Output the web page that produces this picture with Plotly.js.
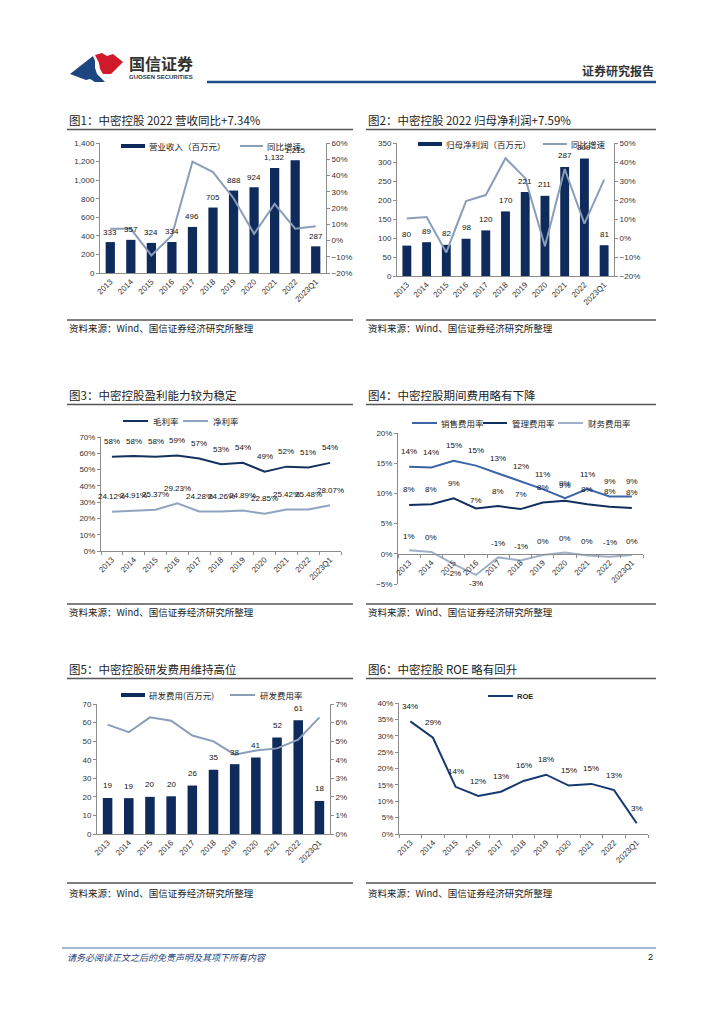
<!DOCTYPE html>
<html>
<head>
<meta charset="utf-8">
<script src="https://cdn.plot.ly/plotly-3.0.1.min.js"></script>
<style>
html,body{margin:0;padding:0;background:#fff;}
#chart{width:724px;height:1024px;}
</style>
</head>
<body>
<div id="chart"></div>
<script>
// ---------- data ----------
const categories = ['2013','2014','2015','2016','2017','2018','2019','2020','2021','2022','2023Q1'];

const revenue = [333,357,324,334,496,705,888,924,1132,1215,287];
const revenueLabels = ['333','357','324','334','496','705','888','924','1,132','1,215','287'];
const revenueYoY = [7.2,7.2,-9.2,3.1,48.5,42.1,26.0,4.1,22.5,7.3,8.8];

const netProfit = [80,89,82,98,120,170,221,211,287,309,81];
const netProfitYoY = [10.2,11.0,-7.6,19.4,22.6,42.0,31.5,-4.3,36.3,7.6,30.7];

const grossMargin = [57.9,58.3,57.8,58.7,56.8,53.3,54.2,48.7,51.8,51.3,54.1];
const grossLabels = ['58%','58%','58%','59%','57%','53%','54%','49%','52%','51%','54%'];
const netMargin = [24.12,24.91,25.37,29.23,24.28,24.26,24.89,22.85,25.42,25.48,28.07];
const netLabels = ['24.12%','24.91%','25.37%','29.23%','24.28%','24.26%','24.89%','22.85%','25.42%','25.48%','28.07%'];

const salesRate = [14.4,14.3,15.4,14.6,13.3,12.0,10.7,9.2,10.7,9.5,9.5];
const salesLabels = ['14%','14%','15%','15%','13%','12%','11%','9%','11%','9%','9%'];
const adminRate = [8.1,8.2,9.2,7.5,7.9,7.4,8.5,8.8,8.2,7.8,7.6];
const adminLabels = ['8%','8%','9%','7%','8%','7%','8%','9%','8%','8%','8%'];
const financeRate = [0.6,0.3,-1.7,-3.5,-0.6,-1.1,-0.2,0.2,-0.3,-0.5,-0.2];
const financeLabels = ['1%','0%','-2%','-3%','-1%','-1%','0%','0%','0%','-1%','0%'];

const rdExpense = [19.4,19.3,20.0,20.3,26.1,34.6,37.6,41.2,51.9,61.2,17.8];
const rdRate = [5.89,5.48,6.28,6.10,5.30,4.99,4.27,4.49,4.61,5.08,6.28];

const roe = [34.4,29.4,14.4,11.6,12.9,16.2,18.1,14.8,15.3,13.4,3.3];

// ---------- styling ----------
const W = 724, H = 1024;
const px = x => x / W;
const py = y => 1 - y / H;
const FONT = 'Liberation Sans, Noto Sans CJK SC, sans-serif';
const CJK = 'Noto Sans CJK SC, Liberation Sans, sans-serif';
const NAVY = '#0f2b5b';
const GREYBLUE = '#8a9db9';
const AXIS = '#8c8c8c';
const tickFont = {family: FONT, size: 8, color: '#333'};
const labelFont = {family: FONT, size: 8, color: '#111'};

function xAx(left, right, anchor, extra) {
  return Object.assign({
    type: 'category', domain: [px(left), px(right)], range: [-0.5, 10.5],
    anchor: anchor, showline: true, linecolor: AXIS, linewidth: 1,
    showgrid: false, zeroline: false, tickangle: -45, tickfont: tickFont,
    ticks: '', fixedrange: true
  }, extra || {});
}
function yAx(top, bottom, range, dtick, anchor, extra) {
  return Object.assign({
    domain: [py(bottom), py(top)], range: range, dtick: dtick, anchor: anchor,
    showline: true, linecolor: AXIS, linewidth: 1, ticks: 'outside', ticklen: 3,
    tickcolor: AXIS, showgrid: false, zeroline: false, tickfont: tickFont, fixedrange: true
  }, extra || {});
}

// ---------- traces ----------
const traces = [
  {type: 'bar', x: categories, y: revenue, xaxis: 'x', yaxis: 'y', width: 0.45,
   marker: {color: NAVY}, hoverinfo: 'skip'},
  {type: 'scatter', mode: 'lines', x: categories, y: revenueYoY, xaxis: 'x', yaxis: 'y2',
   line: {color: GREYBLUE, width: 2}, hoverinfo: 'skip'},

  {type: 'bar', x: categories, y: netProfit, xaxis: 'x2', yaxis: 'y3', width: 0.45,
   marker: {color: NAVY}, hoverinfo: 'skip'},
  {type: 'scatter', mode: 'lines', x: categories, y: netProfitYoY, xaxis: 'x2', yaxis: 'y4',
   line: {color: GREYBLUE, width: 2}, hoverinfo: 'skip'},

  {type: 'scatter', mode: 'lines', x: categories, y: grossMargin, xaxis: 'x3', yaxis: 'y5',
   line: {color: '#15315f', width: 2}, hoverinfo: 'skip'},
  {type: 'scatter', mode: 'lines', x: categories, y: netMargin, xaxis: 'x3', yaxis: 'y5',
   line: {color: '#8fa4c0', width: 2}, hoverinfo: 'skip'},

  {type: 'scatter', mode: 'lines', x: categories, y: salesRate, xaxis: 'x4', yaxis: 'y6',
   line: {color: '#3c64a8', width: 2}, hoverinfo: 'skip'},
  {type: 'scatter', mode: 'lines', x: categories, y: adminRate, xaxis: 'x4', yaxis: 'y6',
   line: {color: '#12305f', width: 2}, hoverinfo: 'skip'},
  {type: 'scatter', mode: 'lines', x: categories, y: financeRate, xaxis: 'x4', yaxis: 'y6',
   line: {color: '#9fb0c8', width: 2}, hoverinfo: 'skip'},

  {type: 'bar', x: categories, y: rdExpense, xaxis: 'x5', yaxis: 'y7', width: 0.45,
   marker: {color: NAVY}, hoverinfo: 'skip'},
  {type: 'scatter', mode: 'lines', x: categories, y: rdRate, xaxis: 'x5', yaxis: 'y8',
   line: {color: GREYBLUE, width: 2}, hoverinfo: 'skip'},

  {type: 'scatter', mode: 'lines', x: categories, y: roe, xaxis: 'x6', yaxis: 'y9',
   line: {color: '#163a70', width: 2}, hoverinfo: 'skip'}
];

// ---------- annotations ----------
const ann = [];
function labels(xref, yref, vals, texts, shiftFn) {
  vals.forEach((v, i) => {
    // category axes: use the category index so numeric-looking names are not read as numbers
    ann.push({xref: xref, yref: yref, x: i, y: v, text: texts[i],
      showarrow: false, yshift: shiftFn(v, i), font: labelFont});
  });
}
labels('x', 'y', revenue, revenueLabels, () => 10);
labels('x2', 'y3', netProfit, netProfit.map(String), () => 11);
labels('x3', 'y5', grossMargin, grossLabels, () => 15);
labels('x3', 'y5', netMargin, netLabels, () => 15);
labels('x4', 'y6', salesRate, salesLabels, () => 15);
labels('x4', 'y6', adminRate, adminLabels, (v, i) => (i === 3 ? 8 : 15));
labels('x4', 'y6', financeRate, financeLabels, v => (v < -1.5 ? -9 : 14));
labels('x5', 'y7', rdExpense, rdExpense.map(v => String(Math.round(v))), () => 12);
labels('x6', 'y9', roe, roe.map(v => Math.round(v) + '%'), () => 15);

function txt(x, y, text, size, opts) {
  ann.push(Object.assign({xref: 'paper', yref: 'paper', x: px(x), y: py(y), text: text,
    showarrow: false, xanchor: 'left', yanchor: 'middle',
    font: {family: CJK, size: size, color: '#222'}}, opts || {}));
}
// header
txt(127, 63, '国信证券', 16, {font: {family: CJK, size: 16, color: '#333', weight: 'bold'}});
txt(127, 77, 'GUOSEN SECURITIES', 6, {font: {family: FONT, size: 6, color: '#333', weight: 'bold'}});
txt(656, 70, '证券研究报告', 12, {xanchor: 'right', font: {family: CJK, size: 12, color: '#333', weight: 'bold'}});
// titles
txt(67, 120, '图1：中密控股 2022 营收同比+7.34%', 11.5);
txt(366, 120, '图2：中密控股 2022 归母净利润+7.59%', 11.5);
txt(67, 395, '图3：中密控股盈利能力较为稳定', 11.5);
txt(366, 395, '图4：中密控股期间费用略有下降', 11.5);
txt(67, 669, '图5：中密控股研发费用维持高位', 11.5);
txt(366, 669, '图6：中密控股 ROE 略有回升', 11.5);
// sources
const src = '资料来源：Wind、国信证券经济研究所整理';
[[67, 328], [366, 328], [67, 612], [366, 612], [67, 893], [366, 893]].forEach(p => txt(p[0], p[1], src, 9.5));
// legends text
const legFont = {family: CJK, size: 8.5, color: '#222'};
txt(147, 146, '营业收入（百万元）', 8.5, {font: legFont});
txt(265, 146, '同比增速', 8.5, {font: legFont});
txt(444, 144, '归母净利润（百万元）', 8.5, {font: legFont});
txt(569, 144, '同比增速', 8.5, {font: legFont});
txt(151, 421, '毛利率', 8.5, {font: legFont});
txt(211, 421, '净利率', 8.5, {font: legFont});
txt(439, 423, '销售费用率', 8.5, {font: legFont});
txt(510, 423, '管理费用率', 8.5, {font: legFont});
txt(586, 423, '财务费用率', 8.5, {font: legFont});
txt(147, 695, '研发费用(百万元)', 8.5, {font: legFont});
txt(258, 695, '研发费用率', 8.5, {font: legFont});
txt(515, 696, 'ROE', 8, {font: {family: FONT, size: 7.5, color: '#222', weight: 'bold'}});
// footer
txt(65, 957, '请务必阅读正文之后的免责声明及其项下所有内容', 9,
  {font: {family: CJK, size: 9, color: '#1f3f7a', style: 'italic'}});
txt(655, 957, '2', 9, {xanchor: 'right', font: {family: FONT, size: 9, color: '#111'}});

// ---------- shapes ----------
const shapes = [];
function hline(x0, x1, y, color, width) {
  shapes.push({type: 'line', xref: 'paper', yref: 'paper', x0: px(x0), x1: px(x1), y0: py(y), y1: py(y),
    line: {color: color, width: width}});
}
function rect(x0, x1, y0, y1, color) {
  shapes.push({type: 'rect', xref: 'paper', yref: 'paper', x0: px(x0), x1: px(x1), y0: py(y1), y1: py(y0),
    fillcolor: color, line: {width: 0}});
}
function path(points, color) {
  const d = points.map(p => (p[0] + px(p[1]) + ',' + py(p[2]))).join(' ') + ' Z';
  shapes.push({type: 'path', xref: 'paper', yref: 'paper', path: d, fillcolor: color, line: {width: 0}});
}
// header
hline(207, 656, 82, '#1f4e8c', 2.5);
path([['M', 70, 74], ['L', 93, 56], ['L', 95, 61], ['L', 95, 68], ['L', 97, 74], ['L', 101, 78], ['L', 105, 82], ['L', 95, 82], ['L', 90, 79], ['L', 86, 80]], '#1d4580');
path([['M', 95, 55], ['L', 102, 53], ['L', 107, 56], ['L', 113, 54], ['L', 123, 62], ['L', 111, 74], ['L', 103, 74], ['L', 100, 69], ['L', 99, 63]], '#d0192b');
// title underlines & source lines
[129.5, 404.5, 678.5].forEach(y => { hline(67, 353, y, '#555', 1.3); hline(366, 656, y, '#555', 1.3); });
[320, 604, 883].forEach(y => { hline(67, 353, y, '#555', 1.3); hline(366, 656, y, '#555', 1.3); });
// footer line
hline(62, 656, 948, '#4a77a8', 1);
// legend swatches
rect(121, 145, 144, 148, NAVY);
hline(240, 263, 146, GREYBLUE, 2);
rect(418, 442, 142, 146, NAVY);
hline(543, 567, 144, GREYBLUE, 2);
hline(123, 148, 421, '#15315f', 2);
hline(183, 208, 421, '#8fa4c0', 2);
hline(412, 437, 423, '#3c64a8', 2);
hline(483, 507, 423, '#12305f', 2);
hline(558, 583, 423, '#9fb0c8', 2);
rect(121, 145, 693, 697, NAVY);
hline(230, 255, 695, GREYBLUE, 2);
hline(488, 513, 696, '#163a70', 2);

// ---------- layout ----------
const layout = {
  width: W, height: H, margin: {l: 0, r: 0, t: 0, b: 0},
  paper_bgcolor: '#fff', plot_bgcolor: 'rgba(0,0,0,0)', showlegend: false,
  font: {family: FONT},
  xaxis: xAx(100, 326, 'y'),
  yaxis: yAx(143, 273, [0, 1400], 200, 'x', {tickformat: ',d'}),
  yaxis2: yAx(143, 273, [-20, 60], 10, 'x', {overlaying: 'y', side: 'right', ticksuffix: '%'}),

  xaxis2: xAx(397, 614, 'y3'),
  yaxis3: yAx(143, 276, [0, 350], 50, 'x2'),
  yaxis4: yAx(143, 276, [-20, 50], 10, 'x2', {overlaying: 'y3', side: 'right', ticksuffix: '%'}),

  xaxis3: xAx(101, 341, 'y5', {ticks: 'outside', tickson: 'boundaries', ticklen: 3, tickcolor: AXIS}),
  yaxis5: yAx(437, 551, [0, 70], 10, 'x3', {ticksuffix: '%'}),

  xaxis4: xAx(398, 643, 'free', {position: py(554), ticks: 'outside', tickson: 'boundaries', ticklen: 3, tickcolor: AXIS}),
  yaxis6: yAx(433, 584, [-5, 20], 5, 'x4', {ticksuffix: '%'}),

  xaxis5: xAx(97, 330, 'y7'),
  yaxis7: yAx(704, 834, [0, 70], 10, 'x5'),
  yaxis8: yAx(704, 834, [0, 7], 1, 'x5', {overlaying: 'y7', side: 'right', ticksuffix: '%'}),

  xaxis6: xAx(399, 648, 'y9', {ticks: 'outside', tickson: 'boundaries', ticklen: 3, tickcolor: AXIS}),
  yaxis9: yAx(703, 834, [0, 40], 5, 'x6', {ticksuffix: '%'}),

  annotations: ann,
  shapes: shapes
};

Plotly.newPlot('chart', traces, layout, {staticPlot: true, displayModeBar: false});
</script>
</body>
</html>
